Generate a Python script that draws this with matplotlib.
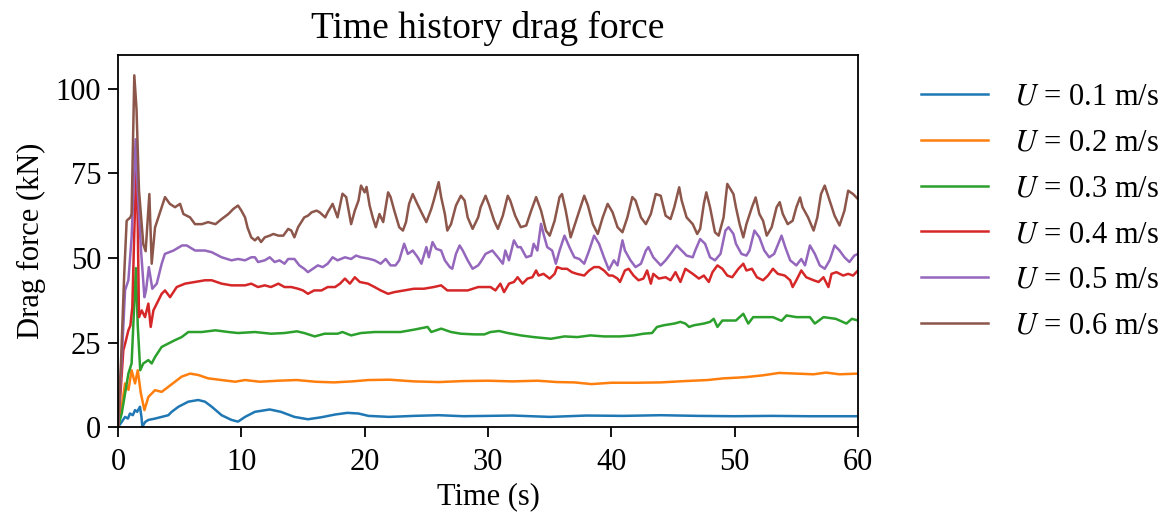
import matplotlib
matplotlib.use('Agg')
import matplotlib.pyplot as plt

plt.rcParams['font.family'] = ['Liberation Serif', 'DejaVu Serif']
plt.rcParams['mathtext.fontset'] = 'stix'

labels = ['$U$ = 0.1 m/s', '$U$ = 0.2 m/s', '$U$ = 0.3 m/s',
          '$U$ = 0.4 m/s', '$U$ = 0.5 m/s', '$U$ = 0.6 m/s']
colors = ['#1f77b4', '#ff7f0e', '#2ca02c', '#d62728', '#9467bd', '#8c564b']

# U = 0.1 m/s
t_01 = [0, 0.3, 0.57, 0.8, 0.97, 1.2, 1.38, 1.55, 1.78, 1.9, 1.97, 2.2, 2.46, 3.0, 3.54,
        4.08, 4.35, 4.9, 5.7, 6.5, 7.05, 7.6, 8.4, 9.2, 9.73, 10.3, 11.1, 12.3, 13.2, 14.3,
        15.4, 16.5, 17.6, 18.6, 19.5, 20.3, 22, 24, 26, 28, 30, 32, 35, 38, 41, 44, 47,
        50, 53, 56, 60]
f_01 = [0, 1.5, 3.0, 2.5, 4.0, 3.5, 5.0, 4.5, 6.0, 3.0, 0.1, 1.5, 2.1, 2.5, 3.0,
        3.5, 4.5, 6.0, 7.5, 8.0, 7.5, 6.0, 3.5, 2.1, 1.6, 3.0, 4.5, 5.2, 4.5, 3.0,
        2.3, 2.9, 3.7, 4.2, 4.0, 3.3, 3.0, 3.3, 3.5, 3.2, 3.3, 3.4, 3.0, 3.4, 3.3, 3.5, 3.3,
        3.2, 3.3, 3.2, 3.2]

# U = 0.2 m/s
t_02 = [0, 0.3, 0.57, 0.85, 1.1, 1.38, 1.6, 1.85, 2.14, 2.46, 3.0, 3.54, 4.08, 4.62, 5.16,
        5.84, 6.5, 7.3, 8.4, 9.5, 10.3, 11.5, 13, 14.5, 16, 17.5, 19, 20.3, 22, 24, 26, 28,
        30, 32, 34, 35.6, 37, 38.4, 40, 42, 44, 46, 47.8, 49.1, 50.2, 51, 52.3, 53.6, 55,
        56.4, 57.4, 58.5, 60]
f_02 = [0, 6, 12.9, 11, 16.8, 12.9, 16.8, 10, 5.0, 8.9, 10.9, 10.4, 11.9, 13.4, 14.9,
        15.8, 15.4, 14.4, 13.9, 13.4, 13.9, 13.4, 13.7, 13.9, 13.4, 13.2, 13.5, 13.9, 14.0,
        13.5, 13.3, 13.6, 13.7, 13.5, 13.7, 13.3, 13.2, 12.7, 13.1, 13.1, 13.2, 13.6, 13.9,
        14.4, 14.6, 14.8, 15.3, 16.0, 15.8, 15.6, 16.1, 15.6, 15.8]

# U = 0.3 m/s
t_03 = [0, 0.3, 0.57, 0.84, 1.1, 1.3, 1.45, 1.6, 1.8, 2.05, 2.46, 2.73, 3.0, 3.54, 4.08,
        4.62, 5.16, 5.7, 6.78, 7.9, 8.95, 9.73, 11.1, 12.4, 13.5, 14.5, 15.1, 15.95, 16.75,
        17.8, 18.2, 18.9, 19.7, 20.8, 21.9, 22.9, 24.0, 25.1, 25.4, 26.2, 27.0, 27.8, 28.9,
        29.7, 30.2, 30.9, 31.6, 32.65, 33.7, 35.1, 36.2, 37.25, 38.3, 39.4, 40.74, 41.8,
        42.6, 43.3, 43.7, 44.25, 45.1, 45.6, 46.0, 46.3, 46.7, 47.5, 48.0, 48.3, 48.6, 49.0,
        49.66, 50.1, 50.7, 51.1, 51.5, 52.3, 53.1, 53.8, 54.2, 55.0, 56.1, 56.5, 57.2, 58.2,
        59.06, 59.5, 60]
f_03 = [0, 4, 9.9, 15.8, 18.8, 35, 47, 30, 16.8, 18.8, 19.8, 18.8, 20.7, 23.7, 24.7,
        25.7, 26.6, 28.1, 28.1, 28.6, 28.1, 27.8, 28.1, 27.6, 27.8, 28.3, 27.8, 26.8, 27.6,
        27.6, 28.1, 27.1, 27.8, 28.1, 28.1, 28.1, 28.8, 29.6, 28.1, 29.1, 28.1, 27.6, 27.4,
        27.4, 28.1, 28.4, 27.8, 27.1, 26.6, 26.1, 26.8, 26.6, 27.1, 26.8, 26.8, 27.1,
        27.6, 27.8, 29.6, 30.1, 30.6, 31.1, 30.6, 29.6, 30.1, 30.6, 31.1, 32.0, 29.6, 31.5,
        31.5, 31.5, 33.5, 30.6, 32.5, 32.5, 32.5, 31.4, 33.0, 32.5, 32.5, 30.6, 32.5, 32.0,
        30.6, 32.0, 31.5]

# U = 0.4 m/s
t_04 = [0, 0.2, 0.43, 0.6, 0.84, 1.0, 1.16, 1.3, 1.5, 1.6, 1.7, 1.92, 2.19, 2.46, 2.65,
        2.87, 3.14, 3.54, 3.81, 4.22, 4.76, 5.43, 6.24, 7.05, 7.6, 8.4, 9.2,
        9.73, 10.3, 10.8, 11.35, 11.9, 12.4, 13.0, 13.5, 14.05, 14.6, 15.0, 15.4, 15.9, 16.5,
        17.0, 17.6, 18.0, 18.4, 18.8, 19.2, 19.6,
        20.27, 20.8, 21.3, 21.9, 22.4, 23.2, 24.0, 24.8, 25.6, 26.2, 26.7, 27.5, 28.35, 29.2,
        30.2, 30.6, 31.0, 31.3, 31.7, 32.1, 32.4, 32.8, 33.2, 33.6, 33.9, 34.1, 34.5, 35.0,
        35.4, 35.6, 36.0, 36.4, 36.8, 37.2, 37.8, 38.2, 38.6, 39.0, 39.4,
        39.8, 40.1, 40.5, 40.7, 41.1, 41.4, 41.8, 42.2, 42.6, 42.9, 43.2, 43.4, 43.85, 44.4,
        44.8, 45.2, 45.6, 46.0, 46.6, 47.1, 47.5, 47.9, 48.2, 48.6, 49.0, 49.4,
        49.8, 50.3, 50.7, 50.95, 51.4, 51.8, 52.3, 52.7, 53.1, 53.5, 54.06, 54.5, 54.7, 55.0,
        55.4, 55.8, 56.4, 56.8, 57.2, 57.6, 57.85, 58.25, 58.8, 59.2, 59.6, 60]
f_04 = [0, 10, 22.7, 25, 28.6, 30, 35.5, 55, 80, 60, 32.5, 34.5, 32.5, 36.5, 29.6,
        34.5, 36.5, 39.4, 40.4, 38.4, 41.4, 42.4, 42.9, 43.4, 43.4, 42.4, 41.9,
        41.9, 41.9, 42.4, 41.4, 41.9, 41.4, 42.4, 41.4, 41.4, 40.9, 40.4, 39.4, 40.4, 40.4,
        41.4, 41.4, 42.4, 43.9, 42.4, 44.3, 42.9,
        42.4, 41.4, 40.4, 39.4, 39.9, 40.4, 40.9, 40.9, 41.4, 41.9, 40.4, 40.4, 40.4, 41.4,
        41.4, 40.4, 42.4, 39.9, 42.4, 42.9, 44.3, 42.4, 43.9, 44.3, 46.3, 44.8, 45.3, 43.9,
        45.3, 47.3, 46.8, 46.8, 45.8, 45.3, 44.8, 46.3, 47.3, 47.3, 46.3,
        44.8, 44.8, 43.9, 42.9, 46.3, 46.8, 44.8, 43.4, 43.9, 46.3, 42.4, 45.3, 43.9, 44.3,
        43.4, 45.8, 42.9, 46.8, 45.3, 43.9, 44.8, 42.9, 45.8, 47.8, 46.8, 44.8,
        44.3, 46.8, 48.3, 46.3, 46.8, 44.3, 43.4, 44.8, 46.8, 45.3, 44.8, 43.4, 41.4, 43.4,
        46.3, 44.3, 43.4, 42.9, 44.3, 41.4, 45.3, 45.8, 44.8, 45.3, 44.8, 46.3]

# U = 0.5 m/s
t_05 = [0, 0.3, 0.57, 0.84, 1.1, 1.43, 1.6, 1.87, 2.14, 2.27, 2.5, 2.78, 3.14, 3.54, 3.8,
        4.5, 5.2, 5.57, 6.25, 7.05, 7.6, 8.4, 9.2,
        9.73, 10.3, 10.8, 11.1, 11.35, 11.9, 12.3, 12.7, 13.1, 13.5, 13.8, 14.3, 14.7, 15.1,
        15.4, 15.8, 16.2, 16.6, 17.0, 17.4, 17.8, 18.4, 18.9, 19.3,
        19.7, 20.3, 20.8, 21.3, 21.7, 22.1, 22.5, 22.8, 23.2, 23.5, 23.9, 24.3, 24.6, 25.0,
        25.2, 25.5, 25.8, 26.2, 26.5, 26.9, 27.1, 27.4, 27.7, 27.95, 28.35, 28.75, 29.2, 29.4,
        29.8, 30.35, 30.8, 31.2, 31.4, 31.7, 32.1, 32.4, 32.65, 33.1, 33.5, 33.7, 34.0, 34.3,
        34.5, 34.8, 35.2, 35.5, 35.8, 36.2, 36.6, 37.0, 37.4, 37.8, 38.2, 38.6, 39.0, 39.4,
        39.8, 40.2, 40.5, 40.9, 41.1, 41.55, 41.96, 42.4, 42.8, 43.0, 43.4, 44.0, 44.4, 44.8,
        45.3, 45.7, 46.1, 46.6, 46.8, 47.2, 47.6, 48.0, 48.4, 48.85, 49.25, 49.5,
        49.9, 50.1, 50.55, 50.95, 51.2, 51.6, 52.0, 52.4, 52.8, 53.2, 53.8, 54.1, 54.5, 55.0,
        55.4, 55.7, 56.1, 56.5, 56.9, 57.3, 57.7, 58.1, 58.5, 58.9, 59.3, 59.7, 60]
f_05 = [0, 20, 40.4, 43.4, 56, 85.1, 70, 52, 38.4, 40.4, 47.3, 40.9, 42.4, 48.3, 51.2,
        52.2, 53.7, 53.7, 52.2, 52.2, 51.7, 50.2, 49.3,
        49.7, 49.3, 50.2, 50.2, 48.8, 49.3, 50.2, 48.8, 49.3, 48.3, 49.7, 49.7, 47.8, 46.8,
        45.8, 46.8, 47.8, 47.3, 48.3, 50.2, 49.3, 50.2, 49.7, 50.7,
        50.2, 49.8, 49.3, 48.3, 49.7, 47.8, 47.8, 49.3, 54.2, 51.2, 52.2, 50.2, 48.3, 53.2,
        50.2, 54.7, 52.7, 52.2, 49.3, 47.3, 46.8, 51.2, 53.7, 52.2, 49.3, 46.8, 47.8, 48.8,
        51.2, 52.2, 50.2, 48.3, 52.2, 49.3, 55.2, 53.2, 53.2, 50.2, 50.7, 54.2, 52.2, 60.1,
        57.1, 53.2, 52.2, 48.3, 52.2, 56.6, 53.2, 50.2, 49.7, 48.3, 52.2, 56.6, 54.2, 50.2,
        46.5, 49.3, 47.8, 55.2, 52.2, 49.3, 47.3, 48.3, 52.2, 53.2, 50.2, 47.8, 49.3, 51.2,
        53.7, 52.2, 50.7, 50.2, 52.2, 55.6, 54.2, 50.2, 49.3, 51.2, 58.1, 59.1,
        57.1, 54.2, 51.2, 50.7, 52.2, 58.1, 56.1, 52.2, 50.2, 51.2, 56.6, 53.2, 49.3, 47.8,
        49.7, 47.8, 53.7, 51.2, 47.8, 46.8, 49.3, 53.7, 52.2, 50.2, 48.8, 50.7, 51.2]

# U = 0.6 m/s
t_06 = [0, 0.25, 0.5, 0.7, 1.0, 1.1, 1.22, 1.32, 1.5, 1.7, 2.05, 2.24, 2.54, 2.73, 3.0,
        3.27, 3.81, 4.2, 4.62, 5.03, 5.3, 5.84, 6.24, 6.8, 7.3, 7.9, 8.4, 8.95, 9.35, 9.73,
        10.0, 10.3, 10.5, 10.8, 11.1, 11.35, 11.6, 11.9, 12.3, 12.6, 13.0, 13.4, 13.8, 14.05,
        14.3, 14.6, 15.1, 15.4, 15.7, 16.1, 16.35, 16.8, 17.0, 17.4, 17.8, 18.2, 18.5, 18.9,
        19.2, 19.5,
        19.7, 20.0, 20.15, 20.4, 20.65, 20.9, 21.2, 21.5, 21.9, 22.1, 22.4, 22.8, 23.1, 23.35,
        23.6, 23.9, 24.2, 24.6, 25.0, 25.4, 25.6, 26.0, 26.2, 26.5, 26.7, 27.0, 27.4, 27.8,
        28.1, 28.35, 28.75, 29.2, 29.4, 29.8,
        30.1, 30.5, 30.8, 31.2, 31.6, 31.8, 32.2, 32.65, 33.1, 33.5, 33.9, 34.3, 34.7, 35.0,
        35.4, 35.8, 36.0, 36.3, 36.7, 37.1, 37.5, 37.8, 38.1, 38.5, 38.9, 39.3, 39.7,
        40.1, 40.5, 40.9, 41.3, 41.7, 41.96, 42.4, 42.8, 43.2, 43.6, 44.0, 44.4, 44.8, 45.1,
        45.5, 45.7, 46.1, 46.6, 46.96, 47.2, 47.5, 47.7, 48.0, 48.4, 48.7, 49.1, 49.4,
        49.9, 50.1, 50.4, 50.7, 50.95, 51.4, 51.7, 52.0, 52.3, 52.6, 53.0, 53.4, 53.65, 53.9,
        54.3, 54.7, 55.0, 55.3, 55.5, 55.95, 56.4, 56.7, 57.0, 57.3, 57.7, 58.1, 58.5, 58.9,
        59.2, 59.6, 60]
f_06 = [0, 20, 45, 61, 62, 63, 85, 104, 94, 70, 54, 52, 68.9, 48.3, 59,
        62, 68, 66, 65, 66, 63, 62, 60, 60, 60.6, 60, 61.5, 63, 64.5, 65.5,
        64, 62, 59, 56.1, 55.2, 56.1, 54.7, 56.1, 56.6, 57.1, 56.6, 56.6, 58.6, 58.1,
        56.1, 59.1, 62, 62.5, 63.5, 64, 63.5, 62, 63.5, 66, 62, 69, 68, 60,
        64, 67,
        71.4, 69.4, 71.0, 65.5, 62, 59.1, 63, 60.6, 69.4, 68, 64, 59.1, 58.1, 60.6,
        66, 68.9, 66.5, 63.5, 60.6, 64.5, 67, 72.4, 68, 63, 58.1, 60, 65.5, 68.4,
        67, 62, 58.6, 62, 65, 68.4,
        65.5, 61, 58.6, 62.5, 68.4, 67, 62.5, 59.1, 59.6, 64, 68, 64, 58.1, 56.6,
        61, 68, 68.9, 64, 56.1, 60.6, 65, 68.4, 65.5, 60, 57.1, 62, 66,
        63.5, 59.1, 57.6, 62, 68, 67, 62, 60, 63, 68.9, 68.4, 62.5, 61.5, 65,
        70.9, 67, 62, 60, 57.1, 58.6, 66, 69.4, 65, 57.6, 56.6, 62, 71.9,
        68.9, 65, 60, 56.1, 60, 65, 67.9, 63, 61, 56.6, 59.1, 65, 66.5, 63,
        60, 61, 65, 67.9, 65, 62, 58.1, 62, 68.9, 71.4, 67, 62.5, 59.6, 64,
        69.9, 68.9, 67.4]

times = [t_01, t_02, t_03, t_04, t_05, t_06]
forces = [f_01, f_02, f_03, f_04, f_05, f_06]

fig = plt.figure(figsize=(11.72, 5.17), dpi=100)
ax = fig.add_axes([0.1007, 0.174, 0.6314, 0.7195])

for t, f, c, lab in zip(times, forces, colors, labels):
    ax.plot(t, f, color=c, linewidth=1.8, label=lab)

ax.set_xlim(0, 60)
ax.set_ylim(0, 110)
ax.set_xticks([0, 10, 20, 30, 40, 50, 60])
ax.set_yticks([0, 25, 50, 75, 100])
ax.tick_params(labelsize=22, width=1.3, length=7, pad=5)
ax.tick_params(axis='x', pad=8)
for s in ax.spines.values():
    s.set_linewidth(1.3)

ax.set_title('Time history drag force', fontsize=27, pad=12)
ax.set_xlabel('Time (s)', fontsize=22, labelpad=4)
ax.set_ylabel('Drag force (kN)', fontsize=22, labelpad=7)

fig.legend(loc='upper left', bbox_to_anchor=(0.786, 0.84), frameon=False,
           fontsize=22, handlelength=2.2, handletextpad=0.85, labelspacing=0.55,
           borderpad=0, borderaxespad=0)

fig.savefig('out.png', dpi=100)
